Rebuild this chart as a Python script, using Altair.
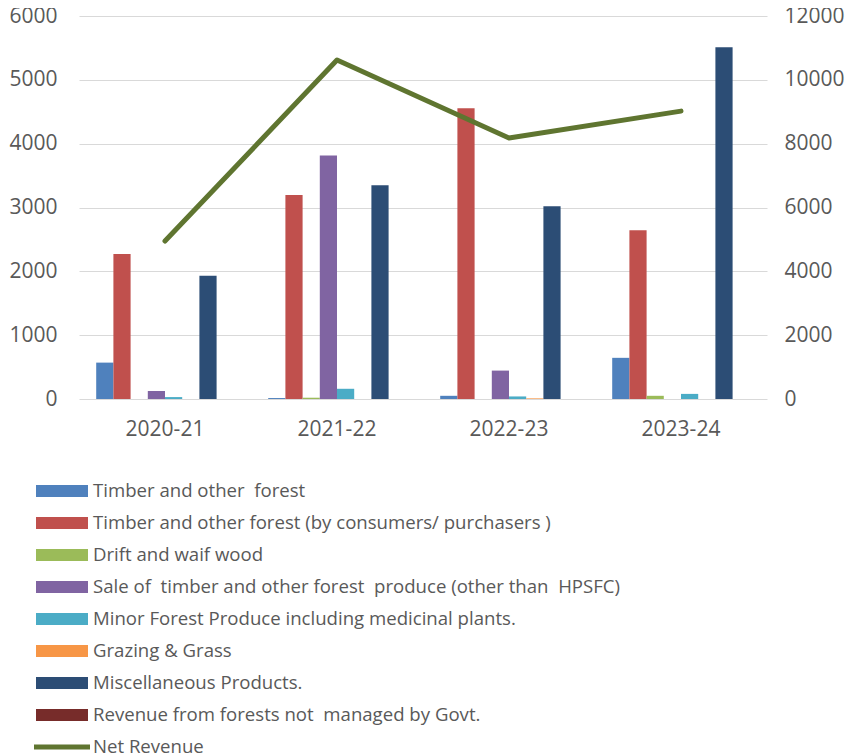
import altair as alt
import pandas as pd

years = ["2020-21", "2021-22", "2022-23", "2023-24"]
series_names = [
    "Timber and other\u00a0 forest",
    "Timber and other forest (by consumers/ purchasers )",
    "Drift and waif wood",
    "Sale of\u00a0 timber and other forest\u00a0 produce (other than\u00a0 HPSFC)",
    "Minor Forest Produce including medicinal plants.",
    "Grazing & Grass",
    "Miscellaneous Products.",
    "Revenue from forests not\u00a0 managed by Govt.",
]
timber = [570, 15, 50, 645]
timber_consumers = [2270, 3195, 4555, 2645]
drift = [0, 20, 0, 50]
sale = [125, 3815, 445, 0]
minor = [30, 160, 40, 80]
grazing = [0, 0, 10, 0]
misc = [1930, 3350, 3020, 5510]
not_managed = [0, 0, 0, 0]
net_revenue = [4950, 10620, 8180, 9020]

colors = ["#4F81BD", "#C0504D", "#9BBB59", "#8064A2", "#4BACC6", "#F79646", "#2C4D75", "#772C2A"]
line_color = "#5F7530"

bar_values = [timber, timber_consumers, drift, sale, minor, grazing, misc, not_managed]
rows = []
for name, vals in zip(series_names, bar_values):
    for yr, v in zip(years, vals):
        rows.append({"Year": yr, "Series": name, "Value": v})
bars_df = pd.DataFrame(rows)
line_df = pd.DataFrame({"Year": years, "Net": net_revenue, "Label": ["Net Revenue"] * len(years)})

FONT = "Open Sans"
GRAY = "#595959"
AXIS_FS = 21
LEG_FS = 18.6

xscale = alt.Scale(domain=years, paddingInner=0.2, paddingOuter=0.1)

bars = alt.Chart(bars_df).mark_bar().encode(
    x=alt.X("Year:N", scale=xscale, sort=years,
            axis=alt.Axis(title=None, labelAngle=0, domain=False, ticks=False, labelPadding=19,
                          labelFontSize=AXIS_FS, labelColor=GRAY, labelFont=FONT)),
    xOffset=alt.XOffset("Series:N", sort=series_names,
                        scale=alt.Scale(domain=series_names, paddingInner=0, paddingOuter=0)),
    y=alt.Y("Value:Q", scale=alt.Scale(domain=[0, 6000]),
            axis=alt.Axis(title=None, values=list(range(0, 6001, 1000)), format="d", grid=True,
                          gridColor="#D9D9D9", gridWidth=1, domain=False, ticks=False, labelPadding=22,
                          labelFontSize=AXIS_FS, labelColor=GRAY, labelFont=FONT)),
    color=alt.Color("Series:N", sort=series_names, title=None,
                    scale=alt.Scale(domain=series_names, range=colors),
                    legend=alt.Legend(orient="none", legendX=-43, legendY=465, direction="vertical",
                                      columns=1,
                                      symbolType="M-1,-0.23H1V0.23H-1Z", symbolSize=2704,
                                      symbolStrokeWidth=0, symbolOpacity=1, clipHeight=20,
                                      rowPadding=12, labelFont=FONT, labelFontSize=LEG_FS,
                                      labelColor=GRAY, labelLimit=1000, labelOffset=5)),
)

line = alt.Chart(line_df).mark_line(strokeWidth=5, strokeCap="round", strokeJoin="round").encode(
    x=alt.X("Year:N", scale=xscale, sort=years, bandPosition=0.5),
    y=alt.Y("Net:Q", scale=alt.Scale(domain=[0, 12000]),
            axis=alt.Axis(title=None, orient="right", values=list(range(0, 12001, 2000)), format="d",
                          grid=False, domain=False, ticks=False, labelPadding=17,
                          labelFontSize=AXIS_FS, labelColor=GRAY, labelFont=FONT)),
    stroke=alt.Stroke("Label:N", title=None,
                      scale=alt.Scale(domain=["Net Revenue"], range=[line_color]),
                      legend=alt.Legend(orient="none", legendX=-47.5, legendY=721, direction="vertical",
                                        symbolType="stroke", symbolSize=3136, symbolStrokeWidth=5,
                                        clipHeight=20, labelFont=FONT, labelFontSize=LEG_FS,
                                        labelColor=GRAY, labelLimit=1000, labelOffset=0.5)),
)

chart = alt.layer(bars, line).resolve_scale(y="independent", color="independent").properties(
    width=688, height=383,
    autosize=alt.AutoSizeParams(type="none"),
    padding={"left": 71, "top": 8, "right": 83, "bottom": 356},
    background="white",
).configure_view(stroke=None)

chart.save("out.html", embed_options={"renderer": "svg", "actions": False})
